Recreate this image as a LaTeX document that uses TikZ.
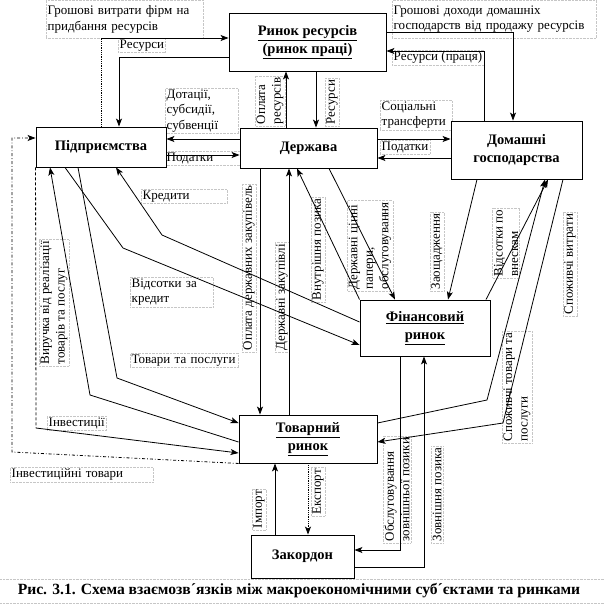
\documentclass[tikz,border=0pt]{standalone}
\usepackage{fontspec}
\setmainfont{Liberation Serif}
\usetikzlibrary{arrows.meta}
\begin{document}
\begin{tikzpicture}[x=1pt,y=-1pt,
  box/.style={draw, line width=0.9pt, fill=white, inner sep=0pt, font=\fontsize{14.5}{18}\selectfont\bfseries, align=center},
  lbl/.style={font=\fontsize{13}{15.5}\selectfont, inner sep=1.5pt, align=left},
  lb/.style={lbl, draw=gray!45, densely dotted, line width=0.4pt},
  rl/.style={lb, rotate=90, anchor=west},
  con/.style={line width=0.8pt},
  arr/.style={con, -{Stealth[length=8pt,width=6pt,inset=2pt]}},
]
\useasboundingbox (0,0) rectangle (609,605);

% labels
\node[lb, anchor=north west, text width=154, minimum height=38] (l1) at (46,0) {Грошові витрати фірм на\\придбання ресурсів};
\node[lb, anchor=north west] (l2) at (118,38) {Ресурси};
\node[lb, anchor=north west, text width=70] (l3) at (165,88) {Дотації,\\субсидії,\\субвенції};
\node[lb, anchor=north west, text width=72] (l4) at (165,151) {Податки};
\node[lb, anchor=north west, text width=69] (l5) at (380,100) {Соціальні\\трансферти};
\node[lb, anchor=north west] (l6) at (380,140) {Податки};
\node[lb, anchor=north west, text width=201, minimum height=38] (l7) at (392,0) {Грошові доходи домашніх\\господарств від продажу ресурсів};
\node[lb, anchor=north west] (l8) at (392,50) {Ресурси (праця)};
\node[lb, anchor=north west, text width=83] (l9) at (141,189) {Кредити};
\node[lb, anchor=north west, text width=80] (l10) at (130,277) {Відсотки за\\кредит};
\node[lb, anchor=north west, text width=105] (l11) at (130,353) {Товари та послуги};
\node[lb, anchor=north west] (l12) at (47,416) {Інвестиції};
\node[lb, anchor=north west, text width=140] (l13) at (10,467) {Інвестиційні товари};

\node[rl] (r1) at (270,126) {Оплата\\ресурсів};
\node[rl] (r2) at (332,126) {Ресурси};
\node[rl] (r3) at (54,366) {Виручка від реалізації\\товарів та послуг};
\node[rl] (r4) at (249,352) {Оплата державних закупівель};
\node[rl] (r5) at (282,352) {Державні закупівлі};
\node[rl] (r6) at (318,302) {Внутрішня позика};
\node[rl] (r7) at (370,291) {Державні цінні\\папери,\\обслуговування};
\node[rl] (r8) at (437,291) {Заощадження};
\node[rl] (r9) at (506,278) {Відсотки по\\внескам};
\node[rl] (r10) at (570,316) {Споживчі витрати};
\node[rl] (r11) at (517,443) {Споживчі товари та\\послуги};
\node[rl] (r12) at (397,543) {Обслуговування\\зовнішньої позики};
\node[rl] (r13) at (437,543) {Зовнішня позика};
\node[rl] (r14) at (259,530) {Імпорт};
\node[rl] (r15) at (318,516) {Експорт};

% boxes
\node[box, minimum width=157, minimum height=58] (RR) at (307.5,42) {\underline{Ринок ресурсів}\\\underline{(ринок праці)}};
\node[box, minimum width=130, minimum height=40] (P) at (101,147) {Підприємства};
\node[box, minimum width=137, minimum height=40] (D) at (308.5,148) {Держава};
\node[box, minimum width=131, minimum height=58] (H) at (516.5,150) {Домашні\\господарства};
\node[box, minimum width=130, minimum height=56] (F) at (425,328) {\underline{Фінансовий}\\\underline{ринок}};
\node[box, minimum width=138, minimum height=48] (T) at (308,439) {\underline{Товарний}\\\underline{ринок}};
\node[box, minimum width=103, minimum height=43] (Z) at (302.5,556.5) {Закордон};

% caption
\node[font=\fontsize{15.6}{18}\selectfont\bfseries, minimum width=609, minimum height=24] (cap) at (299,591) {Рис. 3.1. Схема взаємозв´язків між макроекономічними суб´єктами та ринками};
\draw[gray!45, densely dotted, line width=0.4pt] (cap.north west) -- (cap.north east);
\draw[gray!45, densely dotted, line width=0.4pt] (cap.south west) -- (cap.south east);

% coordinates
\coordinate (gA) at (101,38);
\coordinate (rA) at (119,57);
\coordinate (gB) at (513,32);
\coordinate (rB) at (484,51);
\coordinate (xo) at (286,0);
\coordinate (xr) at (316,0);
\coordinate (y1) at (0,139);
\coordinate (y2) at (0,155);
\coordinate (y3) at (0,158);
\coordinate (x4) at (260,0);
\coordinate (x5) at (289,0);
\coordinate (x6) at (297,0);
\coordinate (x7) at (329,0);
\coordinate (x8) at (395,0);
\coordinate (x9) at (477,0);
\coordinate (x10) at (448,0);
\coordinate (x11) at (486,0);
\coordinate (x12) at (548,0);
\coordinate (b1) at (487,400);
\coordinate (x13) at (545,0);
\coordinate (y13) at (0,423);
\coordinate (x14) at (563,0);
\coordinate (b2) at (503,423);
\coordinate (y14) at (0,442);
\coordinate (b3) at (162,235);
\coordinate (y15) at (0,322);
\coordinate (x15) at (116,0);
\coordinate (x16) at (65,0);
\coordinate (b4) at (123,248);
\coordinate (y16) at (0,345);
\coordinate (x17) at (78,0);
\coordinate (b5) at (117,378);
\coordinate (y17) at (0,423);
\coordinate (y18) at (0,442);
\coordinate (b6) at (90,395);
\coordinate (x18) at (50,0);
\coordinate (b7) at (36,428);
\coordinate (y19) at (0,453);
\coordinate (b8) at (12,452);
\coordinate (b9) at (12,138);
\coordinate (x20) at (275,0);
\coordinate (x21) at (308,0);
\coordinate (x22) at (400,0);
\coordinate (y22) at (0,550);
\coordinate (x23) at (424,0);
\coordinate (y23) at (0,567);

% connectors
\draw[con, densely dotted] (P.north) -- (gA);
\draw[arr] (gA) -- (gA -| RR.west);
\draw[con] (rA -| RR.west) -- (rA);
\draw[arr] (rA) -- (rA |- P.north);
\draw[con] (gB -| RR.east) -- (gB);
\draw[arr] (gB) -- (gB |- H.north);
\draw[con] (rB |- H.north) -- (rB);
\draw[arr] (rB) -- (rB -| RR.east);
\draw[arr] (xo |- D.north) -- (xo |- RR.south);
\draw[arr] (xr |- RR.south) -- (xr |- D.north);
\draw[arr] (y1 -| D.west) -- (y1 -| P.east);
\draw[arr] (y2 -| P.east) -- (y2 -| D.west);
\draw[arr] (y1 -| D.east) -- (y1 -| H.west);
\draw[arr] (y3 -| H.west) -- (y3 -| D.east);
\draw[arr] (x4 |- D.south) -- (x4 |- T.north);
\draw[arr] (x5 |- T.north) -- (x5 |- D.south);
\draw[arr] (F.north west) -- (x6 |- D.south);
\draw[arr] (x7 |- D.south) -- (x8 |- F.north);
\draw[arr] (x9 |- H.south) -- (x10 |- F.north);
\draw[arr] (x11 |- F.north) -- (x12 |- H.south);
\draw[arr] (y13 -| T.east) -- (b1) -- (x13 |- H.south);
\draw[arr] (x14 |- H.south) -- (b2) -- (y14 -| T.east);
\draw[arr] (y15 -| F.west) -- (b3) -- (x15 |- P.south);
\draw[arr] (x16 |- P.south) -- (b4) -- (y16 -| F.west);
\draw[arr] (x17 |- P.south) -- (b5) -- (y17 -| T.west);
\draw[arr] (y18 -| T.west) -- (b6) -- (x18 |- P.south);
\draw[con, densely dashed] (P.south west) -- (b7);
\draw[arr] (b7) -- (y19 -| T.west);
\draw[arr, dash dot] (T.south west) -- (b8) -- (b9) -- (b9 -| P.west);
\draw[arr] (x20 |- Z.north) -- (x20 |- T.south);
\draw[arr, densely dotted] (x21 |- T.south) -- (x21 |- Z.north);
\draw[arr] (x22 |- F.south) -- (x22 |- y22) -- (y22 -| Z.east);
\draw[arr] (y23 -| Z.east) -- (x23 |- y23) -- (x23 |- F.south);
\end{tikzpicture}
\end{document}
